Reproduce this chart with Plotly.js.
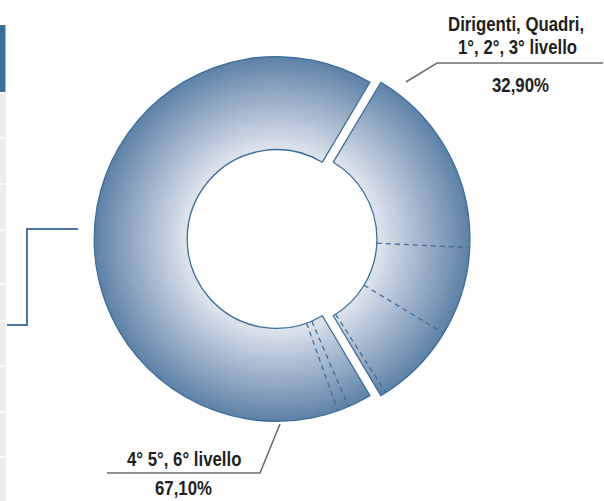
<!DOCTYPE html>
<html><head><meta charset="utf-8">
<script src="https://cdn.plot.ly/plotly-3.0.1.min.js"></script>
<style>
html,body{margin:0;padding:0;background:#fff;overflow:hidden}
.annotation-text{transform:scaleX(0.84);transform-box:fill-box;transform-origin:center;}
</style>
</head><body>
<div id="chart" style="width:604px;height:501px"></div>
<script>
// ---- data ----
const groupNames = ["Dirigenti, Quadri, 1°, 2°, 3° livello", "4° 5°, 6° livello"];
const groupLabelLines = [["Dirigenti, Quadri,", "1°, 2°, 3° livello"], ["4° 5°, 6° livello"]];
const groupShares = [32.90, 67.10];
const shareLabels = ["32,90%", "67,10%"];
// sub-parts inside each group (clockwise), shown by dashed dividers
const subShares1 = [17.2, 7.9, 7.3, 0.5];
const subShares2 = [2.1, 1.0, 64.0];
const subShares = [subShares1, subShares2];

// ---- style ----
const W = 604, H = 501;
const HOLE = 0.49, PULL = 0.03;
const EDGE = '#3d6e99';
const TXT = {family: 'Liberation Sans, Arial, sans-serif', size: 20, color: '#231f20', weight: 'bold'};
const total = groupShares.reduce((a, b) => a + b, 0);
const rotation = 90 - groupShares[0] / total * 180;

function px2x(px){ return px / W; }
function px2y(py){ return 1 - py / H; }
function ptsToPath(pts){
  return pts.map((p,i)=>(i?'L':'M')+px2x(p[0]).toFixed(5)+','+px2y(p[1]).toFixed(5)).join(' ');
}

const staticShapes = [
  // leader lines
  {type:'path', xref:'paper', yref:'paper', path:ptsToPath([[406,82],[437,63],[603,63]]), line:{color:'#6d6e70', width:1.6}},
  {type:'path', xref:'paper', yref:'paper', path:ptsToPath([[280,424],[260,473],[107,473]]), line:{color:'#6d6e70', width:1.6}},
  // left decorative fragments
  {type:'path', xref:'paper', yref:'paper', path:ptsToPath([[78,229],[27,229],[27,325],[7,325]]), line:{color:'#4a78a0', width:2}},
  {type:'rect', xref:'paper', yref:'paper', x0:0, x1:px2x(5.5), y0:px2y(92), y1:px2y(25), fillcolor:'#3b6f9b', line:{width:0}},
  {type:'rect', xref:'paper', yref:'paper', x0:0, x1:px2x(6), y0:px2y(501), y1:px2y(93), fillcolor:'#ededed', line:{width:0}}
];
[138,184,230,284,321,366,412,457].forEach(y => staticShapes.push({type:'line', xref:'paper', yref:'paper', x0:0, x1:px2x(6), y0:px2y(y), y1:px2y(y), line:{color:'#ffffff', width:1.5}}));

const annotations = [
  {x:px2x(516), y:px2y(25), text:groupLabelLines[0][0]},
  {x:px2x(517), y:px2y(48), text:groupLabelLines[0][1]},
  {x:px2x(520), y:px2y(85), text:shareLabels[0]},
  {x:px2x(184), y:px2y(459), text:groupLabelLines[1][0]},
  {x:px2x(183), y:px2y(488), text:shareLabels[1]},
].map(a => Object.assign({xref:'paper', yref:'paper', xanchor:'center', yanchor:'middle', showarrow:false, font:TXT}, a));

const trace = {
  type:'pie', values:groupShares, labels:groupNames, sort:false, direction:'clockwise',
  rotation:rotation, hole:HOLE, pull:[PULL, PULL], textinfo:'none', hoverinfo:'none',
  marker:{colors:['#9fb2c9','#9fb2c9'], line:{color:EDGE, width:1.3}},
  domain:{x:[0.117, 0.817], y:[0.148, 0.898]}, showlegend:false
};
const layout = {
  width:W, height:H, margin:{l:0, r:0, t:0, b:0}, paper_bgcolor:'#ffffff',
  showlegend:false, shapes:staticShapes, annotations:annotations
};

const gd = document.getElementById('chart');
Plotly.newPlot(gd, [trace], layout, {staticPlot:true}).then(() => {
  const cd0 = gd.calcdata[0][0];
  const sz = gd._fullLayout._size;
  const cx = cd0.cx, cy = cd0.cy, r = cd0.r;
  const toX = px => (px - sz.l) / sz.w;
  const toY = py => 1 - (py - sz.t) / sz.h;
  const centers = [];
  const dividers = [];
  let start = rotation;
  groupShares.forEach((v, gi) => {
    const span = v / total * 360;
    const mid = (start + span / 2) * Math.PI / 180;
    const ccx = cx + PULL * r * Math.sin(mid);
    const ccy = cy - PULL * r * Math.cos(mid);
    centers.push({x:ccx, y:ccy});
    let a = start;
    const parts = subShares[gi];
    for (let k = 0; k < parts.length - 1; k++) {
      a += parts[k] / total * 360;
      const t = a * Math.PI / 180;
      const sx = Math.sin(t), sy = -Math.cos(t);
      dividers.push({type:'line', xref:'paper', yref:'paper',
        x0:toX(ccx + HOLE * r * sx), y0:toY(ccy + HOLE * r * sy),
        x1:toX(ccx + r * sx), y1:toY(ccy + r * sy),
        line:{color:EDGE, width:1.3, dash:'5px,4px'}});
    }
    start += span;
  });
  return Plotly.relayout(gd, {shapes: staticShapes.concat(dividers)}).then(() => {
    const NS = 'http://www.w3.org/2000/svg';
    const svg = gd.querySelector('svg.main-svg');
    let defs = svg.querySelector('defs');
    if (!defs) { defs = document.createElementNS(NS, 'defs'); svg.insertBefore(defs, svg.firstChild); }
    const stops = [[0,'#e4e9f0'],[HOLE,'#dfe5ee'],[1,'#5d81a7']];
    gd.querySelectorAll('.pielayer .slice path.surface').forEach((p, i) => {
      const c = centers[i] || centers[0];
      const g = document.createElementNS(NS, 'radialGradient');
      g.setAttribute('id', 'donutGrad' + i);
      g.setAttribute('gradientUnits', 'userSpaceOnUse');
      g.setAttribute('cx', c.x); g.setAttribute('cy', c.y);
      g.setAttribute('fx', c.x); g.setAttribute('fy', c.y);
      g.setAttribute('r', r);
      stops.forEach(s => {
        const st = document.createElementNS(NS, 'stop');
        st.setAttribute('offset', s[0]);
        st.setAttribute('stop-color', s[1]);
        g.appendChild(st);
      });
      defs.appendChild(g);
      p.style.fill = 'url(#donutGrad' + i + ')';
    });
  });
});
</script>
</body></html>
